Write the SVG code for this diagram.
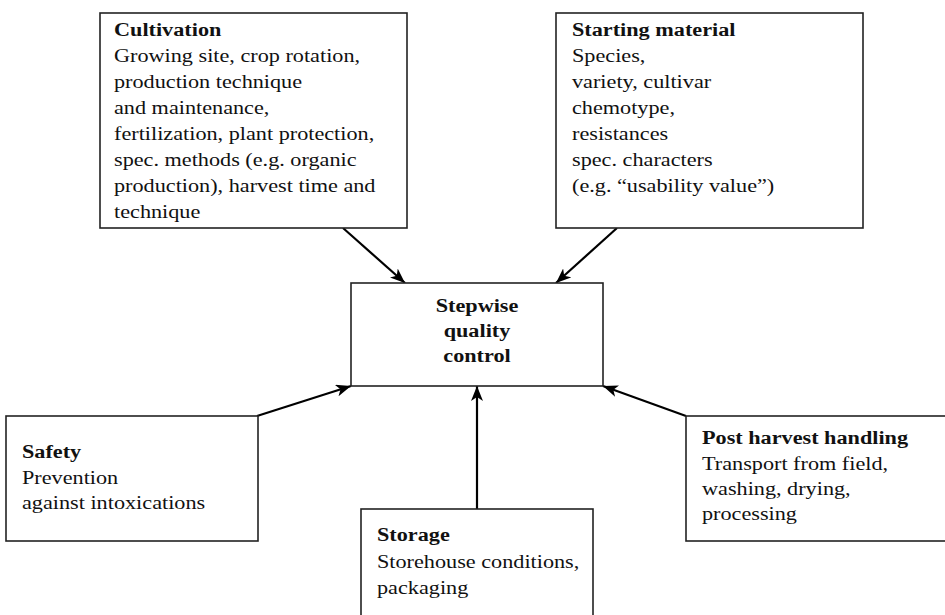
<svg xmlns="http://www.w3.org/2000/svg" width="945" height="615" viewBox="0 0 945 615">
<style>
.box{fill:#fff;stroke:#222;stroke-width:1.6}
.t{font-family:"Liberation Serif","Times New Roman",serif;font-size:19px;fill:#111}
.b{font-weight:bold}
.c{text-anchor:middle}
.con{stroke:#000;stroke-width:2.2;fill:none;marker-end:url(#ah)}
</style>
<defs>
<marker id="ah" markerUnits="userSpaceOnUse" markerWidth="16" markerHeight="12" refX="15" refY="6" orient="auto" viewBox="0 0 16 12">
<path d="M0,0 L15,6 L0,12 L4,6 Z" fill="#000"/>
</marker>
</defs>
<rect width="945" height="615" fill="#fff"/>
<g id="connectors">
<path class="con" d="M343,228 L405,283"/>
<path class="con" d="M617,228 L556,283"/>
<path class="con" d="M257,416 L351,386"/>
<path class="con" d="M686,416 L603,386"/>
<path class="con" d="M477,509 L477,386"/>
</g>
<g id="cultivation">
<rect class="box" x="100" y="13" width="307" height="215"/>
<g transform="translate(114,0) scale(1.17,1)">
<text class="t" x="0" y="36"><tspan class="b">Cultivation</tspan>
<tspan x="0" y="62">Growing site, crop rotation,</tspan>
<tspan x="0" y="88">production technique</tspan>
<tspan x="0" y="114">and maintenance,</tspan>
<tspan x="0" y="140">fertilization, plant protection,</tspan>
<tspan x="0" y="166">spec. methods (e.g. organic</tspan>
<tspan x="0" y="192">production), harvest time and</tspan>
<tspan x="0" y="218">technique</tspan></text>
</g>
</g>
<g id="starting-material">
<rect class="box" x="556" y="13" width="307" height="215"/>
<g transform="translate(572,0) scale(1.17,1)">
<text class="t" x="0" y="36"><tspan class="b">Starting material</tspan>
<tspan x="0" y="62">Species,</tspan>
<tspan x="0" y="88">variety, cultivar</tspan>
<tspan x="0" y="114">chemotype,</tspan>
<tspan x="0" y="140">resistances</tspan>
<tspan x="0" y="166">spec. characters</tspan>
<tspan x="0" y="192">(e.g. “usability value”)</tspan></text>
</g>
</g>
<g id="stepwise-quality-control">
<rect class="box" x="351" y="283" width="252" height="103"/>
<g transform="translate(477,0) scale(1.17,1)">
<text class="t b c" x="0" y="312">Stepwise<tspan x="0" y="337">quality</tspan><tspan x="0" y="362">control</tspan></text>
</g>
</g>
<g id="safety">
<rect class="box" x="6" y="416" width="252" height="125"/>
<g transform="translate(22,0) scale(1.17,1)">
<text class="t" x="0" y="458"><tspan class="b">Safety</tspan>
<tspan x="0" y="484">Prevention</tspan>
<tspan x="0" y="509">against intoxications</tspan></text>
</g>
</g>
<g id="storage">
<rect class="box" x="361" y="509" width="232" height="120"/>
<g transform="translate(377,0) scale(1.17,1)">
<text class="t" x="0" y="541"><tspan class="b">Storage</tspan>
<tspan x="0" y="568">Storehouse conditions,</tspan>
<tspan x="0" y="594">packaging</tspan></text>
</g>
</g>
<g id="post-harvest-handling">
<rect class="box" x="686" y="416" width="270" height="125"/>
<g transform="translate(702,0) scale(1.17,1)">
<text class="t" x="0" y="444"><tspan class="b">Post harvest handling</tspan>
<tspan x="0" y="470">Transport from field,</tspan>
<tspan x="0" y="495">washing, drying,</tspan>
<tspan x="0" y="520">processing</tspan></text>
</g>
</g>
</svg>
